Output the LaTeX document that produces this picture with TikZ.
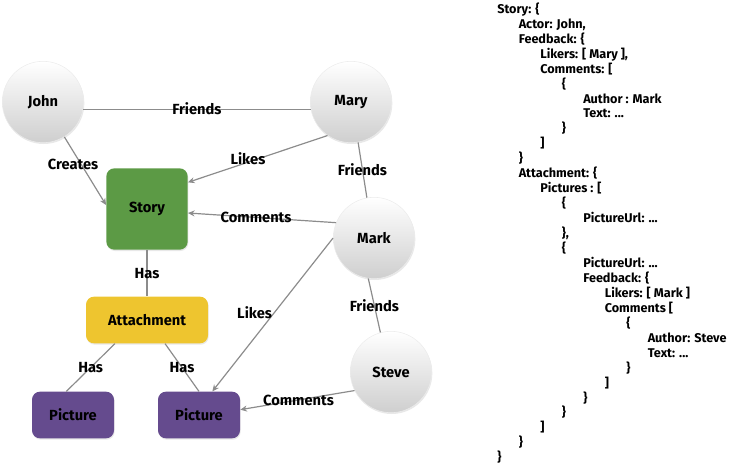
\documentclass[tikz,border=0pt]{standalone}
\usepackage{fontspec}
\setmainfont{Fira Sans}
\usetikzlibrary{arrows.meta,shadows}

\definecolor{storygreen}{HTML}{5C9A45}
\definecolor{attyellow}{HTML}{EEC52F}
\definecolor{picpurple}{HTML}{654B8E}
\definecolor{linegray}{HTML}{8C8C8C}

\tikzset{
	person/.style={circle, minimum size=61pt, inner sep=0pt, top color=white, bottom color=gray!38,
		draw=gray!15, drop shadow={opacity=0.18, shadow xshift=0.5pt, shadow yshift=-1pt},
		font=\bfseries\fontsize{11}{13}\selectfont},
	item/.style={rounded corners=6pt, inner sep=0pt, minimum height=35pt,
		drop shadow={opacity=0.18, shadow xshift=0.5pt, shadow yshift=-1pt},
		font=\bfseries\fontsize{11}{13}\selectfont},
	rel/.style={draw=linegray, line width=0.9pt},
	relto/.style={rel, -{Stealth[length=5pt,width=4.5pt]}},
	lbl/.style={font=\bfseries\fontsize{11}{13}\selectfont, inner sep=1pt},
	json/.style={anchor=west, inner sep=0pt, text height=7pt, text depth=2pt,
		font=\bfseries\fontsize{9.5}{11}\selectfont}
}

\begin{document}
\begin{tikzpicture}[x=0.75pt,y=-0.75pt]
	\useasboundingbox (0,0) rectangle (736,475);

	% people
	\node [person](John) at (43,102) {John};
	\node [person](Mary) at (351,102) {Mary};
	\node [person](Mark) at (374,238) {Mark};
	\node [person](Steve) at (391,372) {Steve};

	% content
	\node [item, fill=storygreen, minimum width=61pt, minimum height=61pt](Story) at (147,209) {Story};
	\node [item, fill=attyellow, minimum width=91.5pt](Attachment) at (147,320) {Attachment};
	\node [item, fill=picpurple, minimum width=61.5pt](PictureA) at (73,415) {Picture};
	\node [item, fill=picpurple, minimum width=61.5pt](PictureB) at (199,415) {Picture};

	% relations
	\draw [rel] (John.350) to node[lbl] {Friends} (Mary.190);
	\draw [relto] (John) to node[lbl, pos=0.4, xshift=-6pt] {Creates} ([yshift=3pt]Story.west);
	\draw [relto] (Mary.235) to node[lbl, pos=0.57, yshift=3pt] {Likes} ([yshift=20pt]Story.east);
	\draw [rel] (Mary.280) to node[lbl] {Friends} (Mark.100);
	\draw [relto] (Mark.158) to node[lbl, pos=0.54] {Comments} ([yshift=-3pt]Story.east);
	\draw [rel] (Story) to node[lbl] {Has} (Attachment);
	\draw [relto] (Mark.west) to node[lbl, pos=0.49, anchor=east] {Likes} ([xshift=10pt]PictureB.north);
	\draw [rel] (Mark.262) to node[lbl] {Friends} (Steve.105);
	\draw [rel] ([xshift=-24pt]Attachment.south) to node[lbl] {Has} ([xshift=-5pt]PictureA.north);
	\draw [rel] ([xshift=13.5pt]Attachment.south) to node[lbl] {Has} (PictureB.north);
	\draw [relto] (Steve.207) to node[lbl, pos=0.49] {Comments} ([yshift=4pt]PictureB.east);

	% json
	\foreach \lvl/\txt [count=\i] in {
		0/{Story: \{}, 1/{Actor: John,}, 1/{Feedback: \{}, 2/{Likers: [ Mary ],}, 2/{Comments: [},
		3/{\{}, 4/{Author : Mark}, 4/{Text: ...}, 3/{\}}, 2/{]}, 1/{\}},
		1/{Attachment: \{}, 2/{Pictures : [}, 3/{\{}, 4/{PictureUrl: ...}, 3/{\},}, 3/{\{},
		4/{PictureUrl: ...}, 4/{Feedback: \{}, 5/{Likers: [ Mark ]}, 5/{Comments [}, 6/{\{},
		7/{Author: Steve}, 7/{Text: ...}, 6/{\}}, 5/{]}, 4/{\}}, 3/{\}}, 2/{]}, 1/{\}}, 0/{\}}}
		\node [json](j\i) at ({497+\lvl*21.5}, {10+(\i-1)*14.95}) {\txt};
\end{tikzpicture}
\end{document}
